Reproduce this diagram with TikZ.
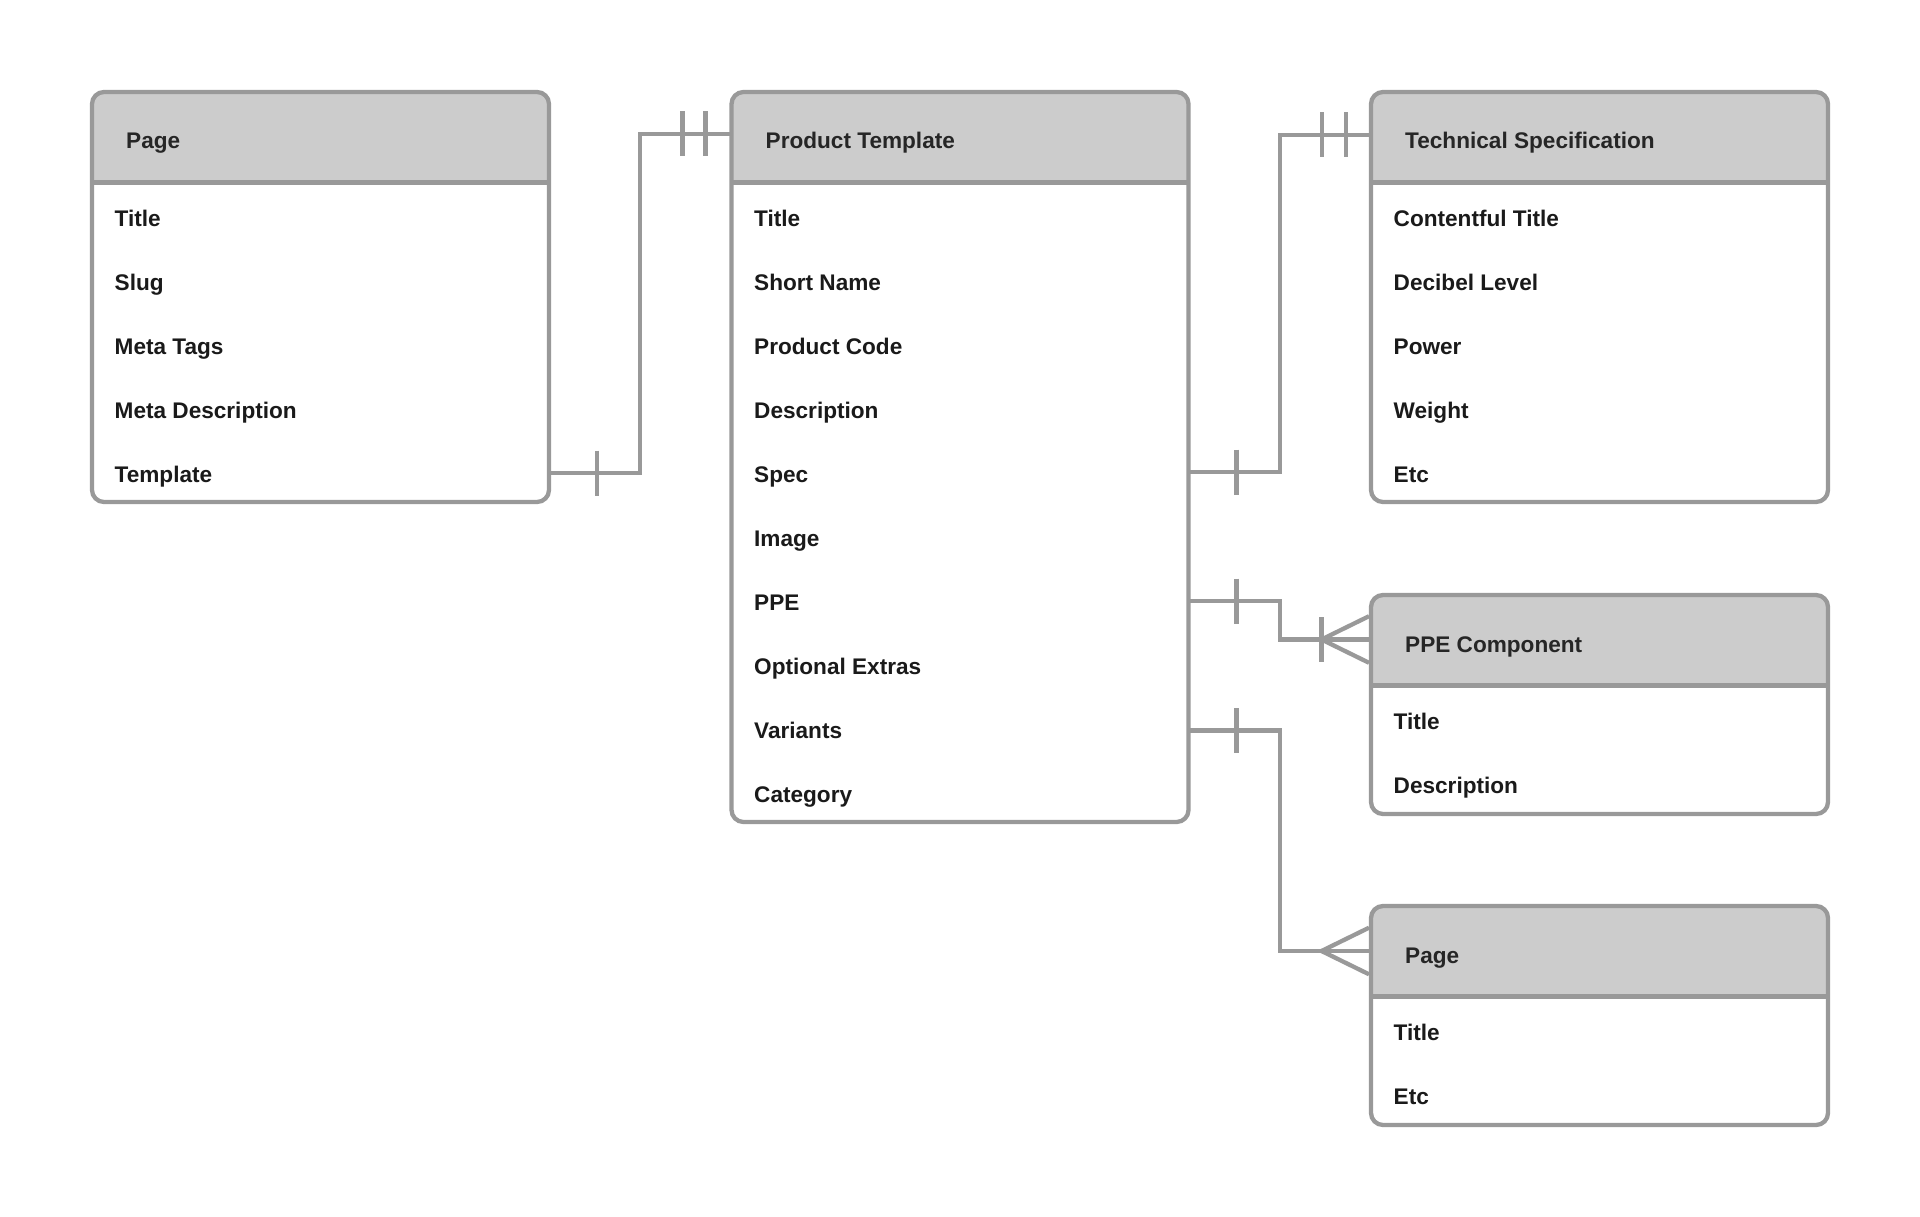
\documentclass[tikz,border=0pt]{standalone}
\usepackage{fontspec}
\setmainfont{Liberation Sans}
\usetikzlibrary{calc}
\definecolor{edgecol}{RGB}{153,153,153}
\definecolor{hdrcol}{RGB}{204,204,204}
\definecolor{inkcol}{RGB}{26,26,26}
\definecolor{hinkcol}{RGB}{38,38,38}
\tikzset{
  ent/.style={rectangle, inner sep=0pt, outer sep=0pt, minimum width=457pt, anchor=north west, fill=white},
  frame/.style={draw=edgecol, line width=4.3pt, rounded corners=12pt},
  divline/.style={draw=edgecol, line width=4.6pt},
  conn/.style={draw=edgecol, line width=4.3pt},
  tickmark/.style={draw=edgecol, line width=4.3pt},
  htext/.style={anchor=base west, inner sep=0pt, text=hinkcol, font=\fontsize{22.6}{27}\selectfont\bfseries},
  rtext/.style={anchor=base west, inner sep=0pt, text=inkcol, font=\fontsize{22.6}{27}\selectfont\bfseries},
}
\begin{document}
\begin{tikzpicture}[x=1pt,y=-1pt]
\fill[white] (0,0) rectangle (1920,1217);
\useasboundingbox (0,0) rectangle (1920,1217);

% entity boxes
\node[ent, minimum height=410pt] (page) at (92,92) {};
\node[ent, minimum height=730pt] (prod) at (731.5,92) {};
\node[ent, minimum height=410pt] (tech) at (1371,92) {};
\node[ent, minimum height=219pt] (ppe) at (1371,595) {};
\node[ent, minimum height=219pt] (pgb) at (1371,906) {};

\foreach \e in {page,prod,tech,ppe,pgb}{
  \fill[hdrcol, rounded corners=12pt] (\e.north west) rectangle ([yshift=-90.5pt]\e.north east);
  \fill[hdrcol] ([yshift=-70pt]\e.north west) rectangle ([yshift=-90.5pt]\e.north east);
  \draw[divline] ([yshift=-90.5pt]\e.north west) -- ([yshift=-90.5pt]\e.north east);
  \draw[frame] (\e.north west) rectangle (\e.south east);
}

% headers
\node[htext] (page-h) at (126,149) {Page};
\node[htext] (prod-h) at (765.5,149) {Product Template};
\node[htext] (tech-h) at (1405,149) {Technical Specification};
\node[htext] (ppe-h) at (1405,652) {PPE Component};
\node[htext] (pgb-h) at (1405,963) {Page};

% rows
\foreach \t [count=\i from 0] in {Title,Slug,Meta Tags,Meta Description,Template}
  \node[rtext] (page-r\i) at (114.5,{226.7+64*\i}) {\t};
\foreach \t [count=\i from 0] in {Title,Short Name,Product Code,Description,Spec,Image,PPE,Optional Extras,Variants,Category}
  \node[rtext] (prod-r\i) at (754,{226.7+64*\i}) {\t};
\foreach \t [count=\i from 0] in {Contentful Title,Decibel Level,Power,Weight,Etc}
  \node[rtext] (tech-r\i) at (1393.5,{226.7+64*\i}) {\t};
\foreach \t [count=\i from 0] in {Title,Description}
  \node[rtext] (ppe-r\i) at (1393.5,{729.7+64*\i}) {\t};
\foreach \t [count=\i from 0] in {Title,Etc}
  \node[rtext] (pgb-r\i) at (1393.5,{1040.7+64*\i}) {\t};

% connector end points
\coordinate (c1s) at ([yshift=-381pt]page.north east);
\coordinate (c1e) at ([yshift=-42pt]prod.north west);
\coordinate (c2s) at ([yshift=-380pt]prod.north east);
\coordinate (c2e) at ([yshift=-43pt]tech.north west);
\coordinate (c3s) at ([yshift=-509pt]prod.north east);
\coordinate (c3e) at ([yshift=-44.5pt]ppe.north west);
\coordinate (c4s) at ([yshift=-638.5pt]prod.north east);
\coordinate (c4e) at ([yshift=-45pt]pgb.north west);

% connectors
\draw[conn] (c1s) -| ($(c1s)!.5!(c1e)$) |- (c1e);
\draw[conn] (c2s) -| ($(c2s)!.5!(c2e)$) |- (c2e);
\draw[conn] (c3s) -| ($(c3s)!.5!(c3e)$) |- (c3e);
\draw[conn] (c4s) -| ($(c4s)!.5!(c4e)$) |- (c4e);

% one marks
\draw[tickmark] ([shift={(48pt,22.5pt)}]c1s) -- ([shift={(48pt,-22.5pt)}]c1s);
\draw[tickmark] ([shift={(-49pt,22.5pt)}]c1e) -- ([shift={(-49pt,-22.5pt)}]c1e);
\draw[tickmark] ([shift={(-26pt,22.5pt)}]c1e) -- ([shift={(-26pt,-22.5pt)}]c1e);

\draw[tickmark] ([shift={(48pt,22.5pt)}]c2s) -- ([shift={(48pt,-22.5pt)}]c2s);
\draw[tickmark] ([shift={(-49pt,22.5pt)}]c2e) -- ([shift={(-49pt,-22.5pt)}]c2e);
\draw[tickmark] ([shift={(-25pt,22.5pt)}]c2e) -- ([shift={(-25pt,-22.5pt)}]c2e);

\draw[tickmark] ([shift={(48pt,22.5pt)}]c3s) -- ([shift={(48pt,-22.5pt)}]c3s);
\draw[tickmark] ([shift={(48pt,22.5pt)}]c4s) -- ([shift={(48pt,-22.5pt)}]c4s);

% crow's feet
\draw[tickmark] ([shift={(-2pt,23.3pt)}]c3e) -- ([xshift=-49.5pt]c3e) -- ([shift={(-2pt,-23.3pt)}]c3e);
\draw[tickmark] ([shift={(-49.5pt,22.5pt)}]c3e) -- ([shift={(-49.5pt,-22.5pt)}]c3e);
\draw[tickmark] ([shift={(-2pt,23.3pt)}]c4e) -- ([xshift=-49.5pt]c4e) -- ([shift={(-2pt,-23.3pt)}]c4e);
\end{tikzpicture}
\end{document}
